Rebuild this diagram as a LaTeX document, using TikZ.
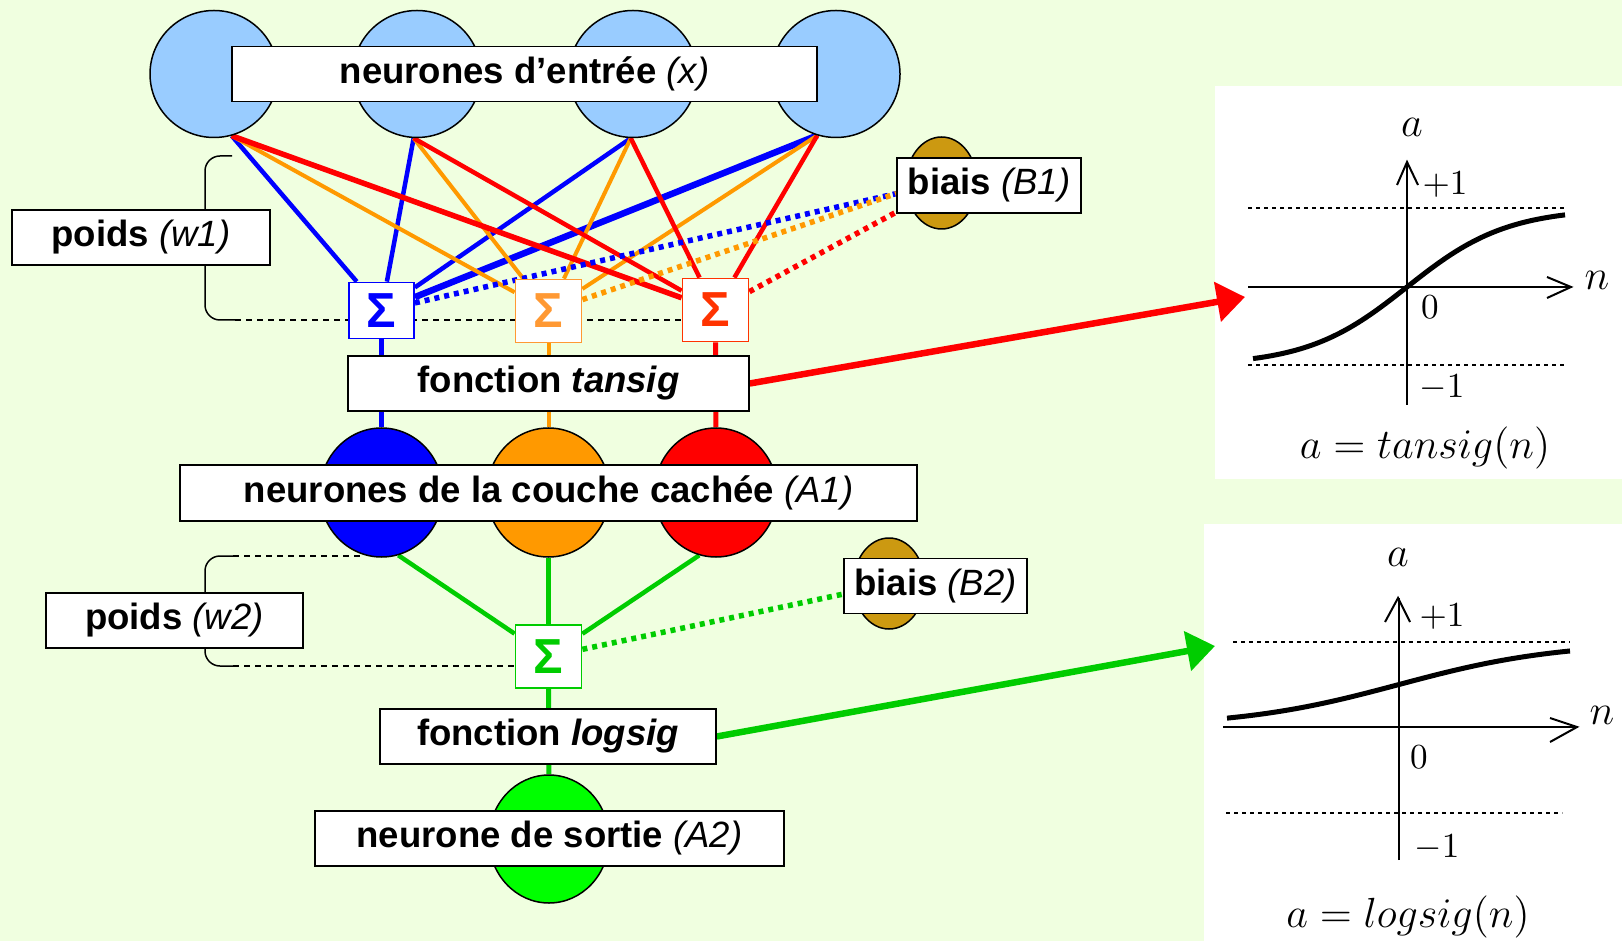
\documentclass[tikz,border=0pt]{standalone}
\usepackage{fontspec}
\setmainfont{Liberation Sans}
\usepackage{amsmath}
\usepackage{xcolor}
\usepackage{tikz}
\usetikzlibrary{shapes.geometric, arrows.meta, positioning, calc}

\definecolor{fondVert}{HTML}{F0FFE0}
\definecolor{bleuClair}{HTML}{99CCFF}
\definecolor{bleuRes}{HTML}{0000FF}
\definecolor{orangeRes}{HTML}{FF9900}
\definecolor{rougeRes}{HTML}{FF0000}
\definecolor{vertRes}{HTML}{00CC00}
\definecolor{vertSortie}{HTML}{00FF00}
\definecolor{orangeSigma}{HTML}{FF9933}
\definecolor{rougeSigma}{HTML}{FF3300}
\definecolor{ocre}{HTML}{CC9911}

\newcommand{\entreParen}[1]{{\mdseries\itshape (#1)}}

\pgfdeclarelayer{fond}
\pgfdeclarelayer{liens}
\pgfsetlayers{fond,liens,main}

\begin{document}
\begin{tikzpicture}[
		x=0.1mm, y=-0.1mm,
		font=\fontsize{10.4}{12}\selectfont,
		neurone/.style={ellipse, draw=black, line width=0.15mm, minimum width=12.8mm, minimum height=12.7mm, inner sep=0pt},
		etiquette/.style={rectangle, draw=black, line width=0.15mm, fill=white, minimum height=5.5mm, inner sep=0pt, font=\fontsize{10.4}{12}\selectfont\bfseries},
		sigmaBox/.style={rectangle, draw=#1, fill=white, line width=0.18mm, minimum width=6.6mm, minimum height=6.3mm, inner sep=0pt, text=#1, font=\fontsize{14}{14}\selectfont\bfseries},
		lien/.style={line width=0.45mm},
		biaisLien/.style={line width=0.55mm, dash pattern=on 0.5mm off 0.5mm},
		accolade/.style={line width=0.15mm, rounded corners=1.5mm},
		tirets/.style={line width=0.15mm, dash pattern=on 0.6mm off 0.5mm},
		grosseFleche/.style={line width=0.65mm, -{Triangle[length=2.8mm, width=3.9mm]}},
		axe/.style={line width=0.2mm},
		pointilles/.style={line width=0.15mm, dash pattern=on 0.4mm off 0.4mm},
		courbe/.style={line width=0.5mm},
		graphTxt/.style={font=\fontsize{10}{10}\selectfont},
		graphVar/.style={font=\fontsize{11.5}{12}\selectfont}
		]

		\useasboundingbox (0,0) rectangle (1622,941);
		% Fond et cadres des courbes
		\begin{pgfonlayer}{fond}
			\fill[fondVert] (0,0) rectangle (1622,941);
			\fill[white] (1215,86) rectangle (1622,479);
			\fill[white] (1204,524) rectangle (1622,941);
		\end{pgfonlayer}

		% Neurones
		\node[neurone, fill=bleuClair] (in1) at (214,74) {};
		\node[neurone, fill=bleuClair] (in2) at (417,74) {};
		\node[neurone, fill=bleuClair] (in3) at (633,74) {};
		\node[neurone, fill=bleuClair] (in4) at (836,74) {};
		\node[etiquette, minimum width=58.5mm] (entree) at (524.5,74) {neurones d’entrée \entreParen{x}};

		\node[sigmaBox=bleuRes, minimum width=6.5mm, minimum height=5.6mm] (s1) at (381.5,310.5) {Σ};
		\node[sigmaBox=orangeSigma] (s2) at (548.5,311) {Σ};
		\node[sigmaBox=rougeSigma] (s3) at (715.5,310) {Σ};

		\node[etiquette, minimum width=40.1mm] (tansig) at (548.5,383.5) {fonction \textit{tansig}};

		\node[neurone, fill=bleuRes, minimum width=12.3mm, minimum height=12.9mm] (h1) at (381.5,492.5) {};
		\node[neurone, fill=orangeRes, minimum width=12.3mm, minimum height=12.9mm] (h2) at (548.5,492.5) {};
		\node[neurone, fill=rougeRes, minimum width=12.3mm, minimum height=12.9mm] (h3) at (716,492.5) {};
		\node[etiquette, minimum width=73.7mm, minimum height=5.6mm] (cachee) at (548.5,493) {neurones de la couche cachée \entreParen{A1}};

		\node[etiquette, minimum width=25.8mm] (poids1) at (141,237.5) {poids \entreParen{w1}};
		\node[etiquette, minimum width=25.7mm] (poids2) at (174.5,620.5) {poids \entreParen{w2}};

		\node[neurone, fill=ocre, minimum width=7.1mm, minimum height=9.2mm] (biais1) at (941.5,183) {};
		\node[etiquette, minimum width=18.4mm] (b1) at (989,185.5) {biais \entreParen{B1}};
		\node[neurone, fill=ocre, minimum width=7.1mm, minimum height=9.1mm] (biais2) at (889,583.5) {};
		\node[etiquette, minimum width=18.3mm] (b2) at (935.5,586) {biais \entreParen{B2}};

		\node[sigmaBox=vertRes] (s4) at (548.5,656.5) {Σ};
		\node[etiquette, minimum width=33.6mm] (logsig) at (548,736.5) {fonction \textit{logsig}};
		\node[neurone, fill=vertSortie, minimum width=12mm, minimum height=12.8mm] (sortie) at (549,839) {};
		\node[etiquette, minimum width=46.9mm] (sortieTxt) at (549.5,838.5) {neurone de sortie \entreParen{A2}};

		\coordinate (w1haut) at (232,156);
		\coordinate (w1bas) at (235,320);
		\coordinate (w2haut) at (233,556);
		\coordinate (w2bas) at (233,666);
		\coordinate (tanTip) at (1245,297);
		\coordinate (logTip) at (1215,646);

		% Liens
		\begin{pgfonlayer}{liens}
			\draw[lien, bleuRes] (in1.-74) -- (s1);
			\draw[lien, bleuRes] (in2.-93) -- (s1);
			\draw[lien, bleuRes] (in3.-92) -- (s1);
			\draw[lien, bleuRes, line width=0.65mm] (in4.-107) -- (s1);
			\draw[lien, orangeRes, line width=0.4mm] (in1.-74) -- (s2);
			\draw[lien, orangeRes, line width=0.4mm] (in2.-93) -- (s2);
			\draw[lien, orangeRes, line width=0.4mm] (in3.-92) -- (s2);
			\draw[lien, orangeRes, line width=0.4mm] (in4.-107) -- (s2);
			\draw[lien, rougeRes, line width=0.55mm] (in1.-74) -- (s3);
			\draw[lien, rougeRes] (in2.-93) -- (s3);
			\draw[lien, rougeRes] (in3.-92) -- (s3);
			\draw[lien, rougeRes] (in4.-107) -- (s3);

			\draw[biaisLien, bleuRes] (s1) -- (b1.185);
			\draw[biaisLien, orangeRes] (s2) -- (b1.185);
			\draw[biaisLien, rougeRes] (s3) -- (b1.196);

			\draw[lien, bleuRes, line width=0.55mm] (s1) -- (h1);
			\draw[lien, orangeRes, line width=0.4mm] (s2) -- (h2);
			\draw[lien, rougeRes, line width=0.5mm] (s3) -- (h3);

			\draw[lien, vertRes] (h1.-75) -- (s4);
			\draw[lien, vertRes] (h2.-90) -- (s4);
			\draw[lien, vertRes] (h3.-105) -- (s4);
			\draw[biaisLien, vertRes] (s4) -- (b2.185);
			\draw[lien, vertRes, line width=0.5mm] (s4) -- (sortie);

			% accolades des poids
			\draw[accolade] (w1haut) -- (205,156) -- (205,320) -- (w1bas);
			\draw[tirets] (w1bas) -- (w1bas -| s3.west);
			\draw[accolade] (w2haut) -- (205,556) -- (205,666) -- (w2bas);
			\draw[tirets] (w2haut) -- (363,556);
			\draw[tirets] (w2bas) -- (w2bas -| s4.west);

			\draw[grosseFleche, rougeRes] (tansig.east) -- (tanTip);
			\draw[grosseFleche, vertRes] (logsig.east) -- (logTip);
		\end{pgfonlayer}

		% Courbe tansig
		\draw[axe] (1407,405) -- (1407,162);
		\draw[axe] (1397,185) -- (1407,162) -- (1418,185);
		\draw[axe] (1248,287) -- (1571,287);
		\draw[axe] (1547,277) -- (1571,287) -- (1547,298);
		\draw[pointilles] (1248,208) -- (1567,208);
		\draw[pointilles] (1248,365) -- (1567,365);
		\draw[courbe] plot[domain=-154:158, samples=60, smooth] ({1407+\x},{287-78.5*tanh(\x/100)});
		\node[graphVar] (tanA) at (1412,127) {$a$};
		\node[graphVar] (tanN) at (1597,280) {$n$};
		\node[graphTxt] (tanP1) at (1445,185) {$+1$};
		\node[graphTxt] (tanZero) at (1430,307) {$0$};
		\node[graphTxt] (tanM1) at (1442,388) {$-1$};
		\node[graphVar] (tanForm) at (1425,448) {$a = tansig(n)$};

		% Courbe logsig
		\draw[axe] (1399,860) -- (1399,598);
		\draw[axe] (1385,622) -- (1398,598) -- (1410,622);
		\draw[axe] (1223,727) -- (1577,727);
		\draw[axe] (1550,718) -- (1577,727) -- (1550,742);
		\draw[pointilles] (1233,642) -- (1570,642);
		\draw[pointilles] (1226,813) -- (1562,813);
		\draw[courbe] plot[domain=-172:171, samples=60, smooth] ({1399+\x},{727-85/(1+exp(-\x/80))});
		\node[graphVar] (logA) at (1398,557) {$a$};
		\node[graphVar] (logN) at (1602,715) {$n$};
		\node[graphTxt] (logP1) at (1442,617) {$+1$};
		\node[graphTxt] (logZero) at (1419,757) {$0$};
		\node[graphTxt] (logM1) at (1437,848) {$-1$};
		\node[graphVar] (logForm) at (1408,917) {$a = logsig(n)$};

	\end{tikzpicture}
\end{document}
